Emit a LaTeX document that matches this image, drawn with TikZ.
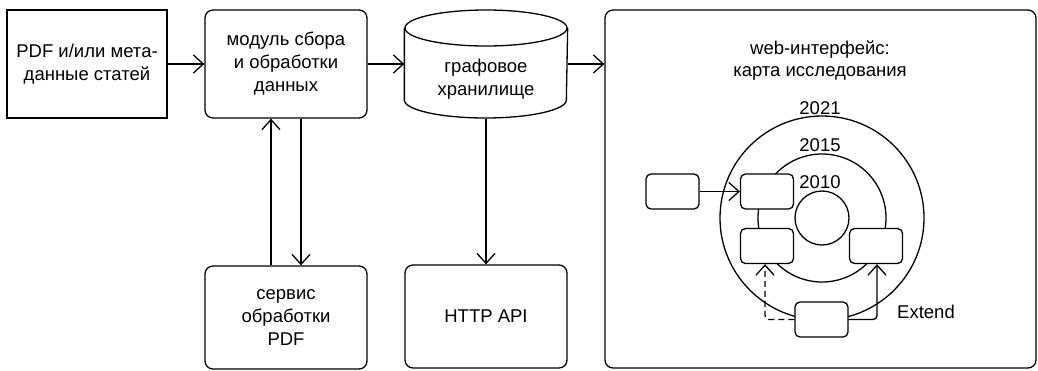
\documentclass[tikz,border=0pt]{standalone}
\usepackage{fontspec}
\setmainfont{Liberation Sans}
\usetikzlibrary{arrows.meta}
\begin{document}
\begin{tikzpicture}[x=1pt,y=-1pt, line width=1.3pt,
  lbl/.style={font=\fontsize{18.5}{23}\selectfont, align=center},
  arr/.style={-{Straight Barb[length=10pt,width=18pt,line width=1.3pt]}},
  bigbox/.style={draw, inner sep=0pt, lbl},
  sbox/.style={draw, fill=white, rounded corners=5pt, minimum width=53pt, minimum height=35pt, inner sep=0pt},
  yr/.style={font=\fontsize{18.5}{20}\selectfont}
]
\useasboundingbox (0,0) rectangle (1038,370);
% top row
\node[bigbox, minimum width=160pt, minimum height=108pt] (pdf) at (87,64) {PDF и/или мета-\\данные статей};
\node[bigbox, rounded corners=8pt, minimum width=162pt, minimum height=108pt] (mod) at (286,64) {модуль сбора\\и обработки\\данных};
\node[inner sep=0pt, minimum width=162pt, minimum height=108pt] (store) at (486,64) {};
\draw (store.north west |- 0,28) -- (store.south west |- 0,100)
      arc[start angle=180, end angle=0, x radius=81, y radius=18]
      -- (store.north east |- 0,28);
\draw (486,28) ellipse [x radius=81, y radius=18];
\node[lbl] (storetxt) at (486,79) {графовое\\хранилище};
\node[bigbox, rounded corners=8pt, minimum width=431pt, minimum height=358pt] (web) at (820.5,189) {};
\node[lbl, font=\fontsize{18.5}{22}\selectfont] (webtxt) at (820,61) {web-интерфейс:\\карта исследования};
% bottom row
\node[bigbox, rounded corners=8pt, minimum width=162pt, minimum height=103pt] (serv) at (286,317.5) {сервис\\обработки\\PDF};
\node[bigbox, rounded corners=8pt, minimum width=162pt, minimum height=103pt] (http) at (486,316.5) {HTTP API};
% connectors
\draw[arr] (pdf) -- (mod);
\draw[arr] (mod.east) -- (store.west);
\draw[arr] (store.east) -- (store.east -| web.west);
\draw[arr] ([xshift=-15pt]serv.north) -- ([xshift=-15pt]mod.south);
\draw[arr] ([xshift=15pt]mod.south) -- ([xshift=15pt]serv.north);
\draw[arr] (store.south) -- (http.north);
% research map
\coordinate (c) at (822,218);
\draw (c) circle[radius=102];
\draw (c) circle[radius=64];
\draw (c) circle[radius=27];
\node[yr] (y21) at (820,108) {2021};
\node[yr] (y15) at (820,145) {2015};
\node[yr] (y10) at (820,182) {2010};
\node[sbox] (A) at (672.5,191.5) {};
\node[sbox] (B) at (767,191.5) {};
\node[sbox] (C) at (767,246) {};
\node[sbox] (D) at (876,246) {};
\node[sbox] (E) at (821.5,319.5) {};
\draw[arr] (A) -- (B);
\draw[arr, dash pattern=on 6pt off 4pt, rounded corners=4pt] (E.west) -| ([xshift=-2pt]C.south);
\draw[arr, rounded corners=4pt] (E.east) -| ([xshift=1pt]D.south);
\node[yr] (ext) at (926,312) {Extend};
\end{tikzpicture}
\end{document}
